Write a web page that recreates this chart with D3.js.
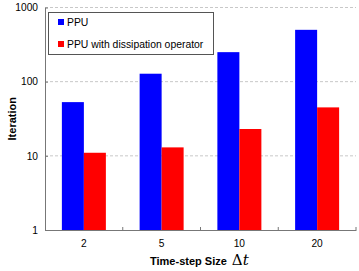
<!DOCTYPE html>
<html><head><meta charset="utf-8">
<script src="https://cdn.jsdelivr.net/npm/d3@7"></script>
<style>body{margin:0;background:#fff}svg{display:block}</style>
</head><body>
<svg id="c" width="359" height="271"></svg>
<script>
const categories = ["2", "5", "10", "20"];
const seriesNames = ["PPU", "PPU with dissipation operator"];
const ppu = [53, 128, 250, 500];
const ppuDiss = [11, 13, 23, 45];
const yTicks = [1, 10, 100, 1000];
const colors = ["#0000ff", "#ff0000"];

const svg = d3.select("#c");
const m = {l: 45, r: 3, t: 7.5, b: 41};
const W = 359, H = 271;
const x = d3.scaleBand().domain(categories).range([m.l, W - m.r]).paddingInner(0).paddingOuter(0);
const y = d3.scaleLog().domain([1, 1000]).range([H - m.b, m.t]);
const font = "Liberation Sans, Arial, sans-serif";

// gridlines
svg.append("g").selectAll("line").data(yTicks.slice(1)).join("line")
  .attr("x1", m.l).attr("x2", W - m.r)
  .attr("y1", d => y(d)).attr("y2", d => y(d))
  .attr("stroke", "#c8c8c8").attr("stroke-dasharray", "3,2").attr("stroke-width", 1);

// bars
const series = [ppu, ppuDiss];
const bw = 22;
series.forEach((vals, si) => {
  svg.append("g").selectAll("rect").data(vals).join("rect")
    .attr("x", (d, i) => x(categories[i]) + x.bandwidth() / 2 - bw + si * bw)
    .attr("width", bw)
    .attr("y", d => y(d))
    .attr("height", d => y(1) - y(d))
    .attr("fill", colors[si]);
});

// y axis
const yAxis = d3.axisLeft(y).tickValues(yTicks).tickFormat(d3.format("d")).tickSizeInner(-3).tickSizeOuter(0).tickPadding(7);
const gy = svg.append("g").attr("transform", `translate(${m.l},0)`).call(yAxis);
gy.select(".domain").attr("stroke", "#777");
gy.selectAll(".tick line").attr("stroke", "#777");
gy.selectAll("text").attr("font-family", font).attr("font-size", 10.2).attr("fill", "#000");

// x axis
const xAxis = d3.axisBottom(x).tickSize(0).tickPadding(10);
const gx = svg.append("g").attr("transform", `translate(0,${H - m.b})`).call(xAxis);
gx.select(".domain").attr("stroke", "#777");
gx.selectAll("text").attr("font-family", font).attr("font-size", 10.2).attr("fill", "#000");
// boundary ticks (inside)
const bounds = categories.map(c => x(c) + x.bandwidth());
svg.append("g").selectAll("line").data(bounds).join("line")
  .attr("x1", d => d).attr("x2", d => d)
  .attr("y1", H - m.b).attr("y2", H - m.b - 3)
  .attr("stroke", "#777");

// axis titles
svg.append("text").attr("transform", `translate(16,${(m.t + H - m.b) / 2}) rotate(-90)`)
  .attr("text-anchor", "middle").attr("font-family", font).attr("font-weight", "bold").attr("font-size", 11)
  .text("Iteration");
const xt = svg.append("text").attr("x", 150).attr("y", 265)
  .attr("font-family", font).attr("font-weight", "bold").attr("font-size", 11);
xt.append("tspan").text("Time-step Size");
xt.append("tspan").attr("dx", 5).attr("font-family", "DejaVu Serif, serif").attr("font-weight", "normal").attr("font-size", 15).text("Δ");
xt.append("tspan").attr("font-family", "DejaVu Serif, serif").attr("font-weight", "normal").attr("font-style", "italic").attr("font-size", 15).text("t");

// legend
const lg = svg.append("g");
lg.append("rect").attr("x", 48.5).attr("y", 12.5).attr("width", 165).attr("height", 42)
  .attr("fill", "#fff").attr("stroke", "#555").attr("stroke-width", 1);
seriesNames.forEach((n, i) => {
  lg.append("rect").attr("x", 58).attr("y", 19 + i * 22).attr("width", 6).attr("height", 6).attr("fill", colors[i]);
  lg.append("text").attr("x", 67).attr("y", 26 + i * 22).attr("font-family", font).attr("font-size", 10.4).text(n);
});
</script>
</body></html>
